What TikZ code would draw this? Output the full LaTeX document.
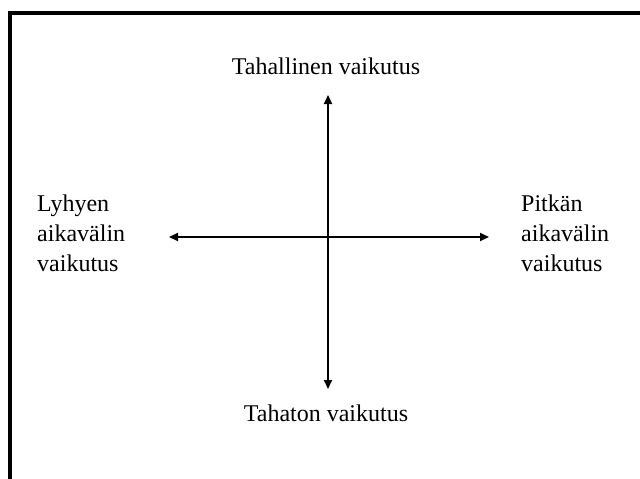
\documentclass[tikz,border=0pt]{standalone}
\usepackage{fontspec}
\setmainfont{Liberation Serif}
\usetikzlibrary{arrows.meta}
\begin{document}
\begin{tikzpicture}[x=1pt,y=-1pt,
  lbl/.style={font=\fontsize{24}{30}\selectfont, inner sep=0pt},
  side/.style={lbl, align=left, anchor=west},
  axis/.style={line width=2pt, {Triangle[length=9pt,width=8pt]}-{Triangle[length=9pt,width=8pt]}}]
\useasboundingbox (0,0) rectangle (640,479);
\draw[line width=3.5pt] (10,700) -- (10,13) -- (700,13);
\coordinate (top) at (328,95);
\coordinate (bot) at (328,389);
\coordinate (lft) at (169,237);
\coordinate (rgt) at (489,237);
\node[lbl] (tl) at (326,66) {Tahallinen vaikutus};
\node[lbl] (bl) at (326,413) {Tahaton vaikutus};
\node[side] (ll) at (37,233) {Lyhyen\\aikavälin\\vaikutus};
\node[side] (rl) at (521,233) {Pitkän\\aikavälin\\vaikutus};
\draw[axis] (bot) -- (top);
\draw[axis] (lft) -- (rgt);
\end{tikzpicture}
\end{document}
